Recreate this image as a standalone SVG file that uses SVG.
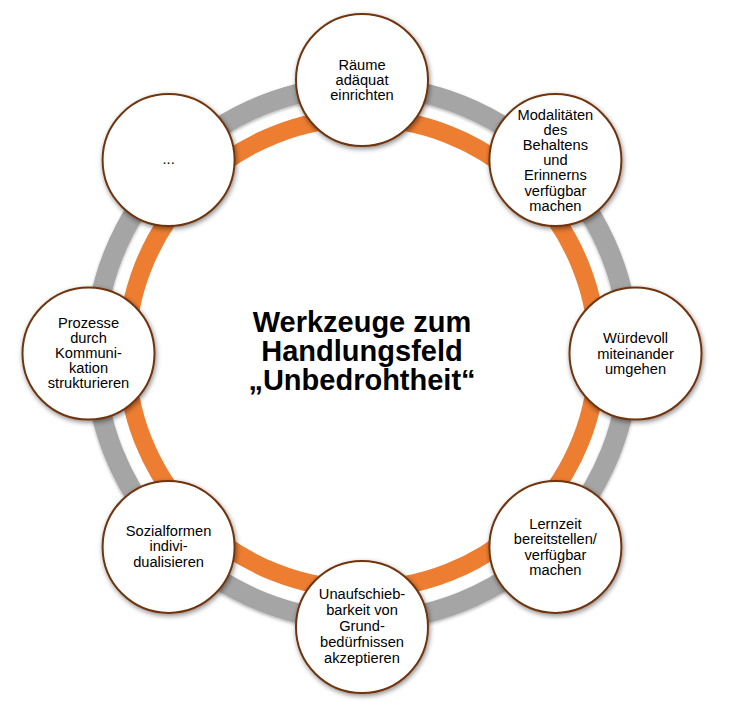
<svg xmlns="http://www.w3.org/2000/svg" width="731" height="709" viewBox="0 0 731 709">
<defs>
<filter id="sh" x="-20%" y="-20%" width="140%" height="140%">
<feDropShadow dx="1" dy="2" stdDeviation="2.5" flood-color="#000" flood-opacity="0.45"/>
</filter>
<filter id="rsh" x="-10%" y="-10%" width="120%" height="120%">
<feDropShadow dx="0" dy="1.5" stdDeviation="1.5" flood-color="#000" flood-opacity="0.3"/>
</filter>
</defs>
<style>
.node circle{fill:#fff;stroke:#70340f;stroke-width:2;filter:url(#sh)}
.node text{font-family:"Liberation Sans",Arial,sans-serif;font-size:14.67px;fill:#000;text-anchor:middle}
.title{font-family:"Liberation Sans",Arial,sans-serif;font-size:29px;font-weight:bold;fill:#000;text-anchor:middle}
</style>
<rect width="731" height="709" fill="#fff"/>
<g id="connectors" fill="none">
<circle cx="362" cy="353.5" r="267.5" stroke="#a5a5a5" stroke-width="20" filter="url(#rsh)"/>
<circle cx="362" cy="353.5" r="235.5" stroke="#ed7d31" stroke-width="18"/>
</g>
<text class="title" x="362"><tspan x="362" y="332">Werkzeuge zum</tspan><tspan x="362" y="361">Handlungsfeld</tspan><tspan x="362" y="390">„Unbedrohtheit“</tspan></text>
<g id="n-raeume" class="node">
<circle cx="362" cy="80" r="66"/>
<text><tspan x="362" y="69.7">Räume</tspan><tspan x="362" y="85">adäquat</tspan><tspan x="362" y="100.3">einrichten</tspan></text>
</g>
<g id="n-modalitaeten" class="node">
<circle cx="555.4" cy="160.1" r="66"/>
<text><tspan x="555.4" y="119.5">Modalitäten</tspan><tspan x="555.4" y="134.7">des</tspan><tspan x="555.4" y="149.9">Behaltens</tspan><tspan x="555.4" y="165.1">und</tspan><tspan x="555.4" y="180.3">Erinnerns</tspan><tspan x="555.4" y="195.5">verfügbar</tspan><tspan x="555.4" y="210.7">machen</tspan></text>
</g>
<g id="n-wuerdevoll" class="node">
<circle cx="635.5" cy="353.5" r="66"/>
<text><tspan x="635.5" y="343.2">Würdevoll</tspan><tspan x="635.5" y="358.5">miteinander</tspan><tspan x="635.5" y="373.8">umgehen</tspan></text>
</g>
<g id="n-lernzeit" class="node">
<circle cx="555.4" cy="546.9" r="66"/>
<text><tspan x="555.4" y="528.9">Lernzeit</tspan><tspan x="555.4" y="544.2">bereitstellen/</tspan><tspan x="555.4" y="559.5">verfügbar</tspan><tspan x="555.4" y="574.8">machen</tspan></text>
</g>
<g id="n-unaufschiebbarkeit" class="node">
<circle cx="362" cy="627" r="66"/>
<text><tspan x="362" y="598.6">Unaufschieb-</tspan><tspan x="362" y="614.8">barkeit von</tspan><tspan x="362" y="631">Grund-</tspan><tspan x="362" y="647.2">bedürfnissen</tspan><tspan x="362" y="663.4">akzeptieren</tspan></text>
</g>
<g id="n-sozialformen" class="node">
<circle cx="168.6" cy="546.9" r="66"/>
<text><tspan x="168.6" y="536.1">Sozialformen</tspan><tspan x="168.6" y="551.4">indivi-</tspan><tspan x="168.6" y="566.7">dualisieren</tspan></text>
</g>
<g id="n-prozesse" class="node">
<circle cx="88.5" cy="353.5" r="66"/>
<text><tspan x="88.5" y="327.5">Prozesse</tspan><tspan x="88.5" y="342.5">durch</tspan><tspan x="88.5" y="357.5">Kommuni-</tspan><tspan x="88.5" y="372.5">kation</tspan><tspan x="88.5" y="387.5">strukturieren</tspan></text>
</g>
<g id="n-weitere" class="node">
<circle cx="168.6" cy="160.1" r="66"/>
<text x="168.6" y="164">...</text>
</g>
</svg>
